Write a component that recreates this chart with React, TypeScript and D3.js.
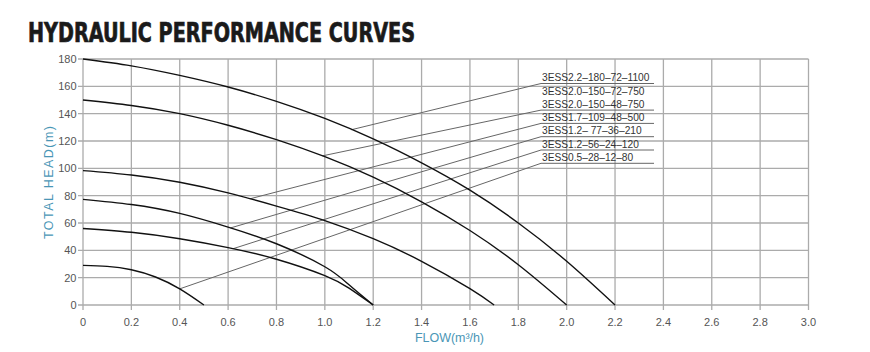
import React from 'react';
import * as d3 from 'd3';

// ---------- data ----------
const xTickValues = [0, 0.2, 0.4, 0.6, 0.8, 1.0, 1.2, 1.4, 1.6, 1.8, 2.0, 2.2, 2.4, 2.6, 2.8, 3.0];
const xTickLabels = ['0', '0.2', '0.4', '0.6', '0.8', '1.0', '1.2', '1.4', '1.6', '1.8', '2.0', '2.2', '2.4', '2.6', '2.8', '3.0'];
const yTickValues = [0, 20, 40, 60, 80, 100, 120, 140, 160, 180];
const yTickLabels = ['0', '20', '40', '60', '80', '100', '120', '140', '160', '180'];

// [flow m3/h, head m]
const curve22_180: [number, number][] = [[0, 180], [0.2, 175], [0.4, 168], [0.6, 159.5], [0.8, 149], [1.0, 136.5], [1.2, 121.5], [1.4, 104], [1.6, 84], [1.8, 60], [2.0, 32], [2.2, 0]];
const curve20_150: [number, number][] = [[0, 150], [0.2, 146], [0.4, 140], [0.6, 131.5], [0.8, 121], [1.0, 108.5], [1.2, 93.5], [1.4, 75.5], [1.6, 54.5], [1.8, 29.5], [2.0, 0]];
const curve17_109: [number, number][] = [[0, 98.3], [0.2, 95.1], [0.4, 89.8], [0.6, 82], [0.8, 72.4], [1.0, 61.8], [1.2, 48.5], [1.4, 32], [1.6, 12], [1.7, 0]];
const curve12_77: [number, number][] = [[0, 77.3], [0.2, 73.5], [0.4, 67], [0.6, 57], [0.8, 44.8], [1.0, 28], [1.1, 14.8], [1.2, 0]];
const curve12_56: [number, number][] = [[0, 56], [0.2, 53.2], [0.4, 48.5], [0.6, 42], [0.8, 33.5], [1.0, 21.5], [1.1, 12.3], [1.2, 0]];
const curve05_28: [number, number][] = [[0, 29], [0.1, 28.3], [0.2, 25.8], [0.3, 20.5], [0.4, 11.8], [0.5, 0]];

const curves = [curve22_180, curve20_150, curve17_109, curve12_77, curve12_56, curve05_28];

const modelLabels = [
  '3ESS2.2–180–72–1100',
  '3ESS2.0–150–72–750',
  '3ESS2.0–150–48–750',
  '3ESS1.7–109–48–500',
  '3ESS1.2– 77–36–210',
  '3ESS1.2–56–24–120',
  '3ESS0.5–28–12–80',
];
// label row that carries an underline + leader, the curve it points to, and the flow where it touches
const leaderRows = [0, 2, 3, 4, 5, 6];
const leaderCurveIndex = [0, 1, 2, 3, 4, 5];
const leaderFlows = [1.11, 0.99, 0.69, 0.61, 0.62, 0.4];

function headAt(c: [number, number][], q: number) {
  for (let i = 0; i < c.length - 1; i++) {
    const [q0, h0] = c[i];
    const [q1, h1] = c[i + 1];
    if (q >= q0 && q <= q1) return h0 + ((q - q0) / (q1 - q0)) * (h1 - h0);
  }
  return c[c.length - 1][1];
}

export default function App() {
  const W = 870;
  const H = 352;
  const x = d3.scaleLinear().domain([0, 3]).range([83, 808.5]);
  const y = d3.scaleLinear().domain([0, 180]).range([305, 59]);
  const line = d3
    .line<[number, number]>()
    .x((d) => x(d[0]))
    .y((d) => y(d[1]))
    .curve(d3.curveNatural);

  const gridColor = '#ababab';
  const tickColor = '#555';
  const titleBlue = '#4a96b6';
  const font = "'Liberation Sans', Arial, sans-serif";

  const labelLeft = 542;
  const labelRight = 654;
  const rowCenter0 = 77.5;
  const rowH = 13.3;

  return (
    <svg width={W} height={H} style={{ position: 'absolute', left: 0, top: 0, display: 'block', background: '#fff' }}>
      <rect x={0} y={0} width={W} height={H} fill="#fff" />
      <text
        x={28}
        y={41.5}
        fontFamily="'DejaVu Sans Condensed', 'DejaVu Sans', sans-serif"
        fontWeight="bold"
        fontSize={26}
        fill="#1a1a1a"
        stroke="#1a1a1a"
        strokeWidth={0.7}
        textLength={387}
        lengthAdjust="spacingAndGlyphs"
      >
        HYDRAULIC PERFORMANCE CURVES
      </text>

      {/* grid */}
      <g stroke={gridColor} strokeWidth={1.3}>
        {xTickValues.map((v) => (
          <line key={'vx' + v} x1={x(v)} x2={x(v)} y1={y(180)} y2={y(0) + 5} />
        ))}
        {yTickValues.map((v) => (
          <line key={'hy' + v} x1={x(0) - 5} x2={x(3)} y1={y(v)} y2={y(v)} />
        ))}
      </g>

      {/* tick labels */}
      <g fontFamily={font} fontSize={11} fill={tickColor}>
        {xTickValues.map((v, i) => (
          <text key={'xl' + v} x={x(v)} y={326} textAnchor="middle">
            {xTickLabels[i]}
          </text>
        ))}
        {yTickValues.map((v, i) => (
          <text key={'yl' + v} x={76.5} y={y(v) + 4} textAnchor="end">
            {yTickLabels[i]}
          </text>
        ))}
      </g>

      {/* axis titles */}
      <text
        transform={`translate(52.5,${(y(0) + y(180)) / 2 + 0.5}) rotate(-90)`}
        textAnchor="middle"
        fontFamily={font}
        fontSize={12.5}
        fill={titleBlue}
        textLength={113}
        lengthAdjust="spacing"
      >
        TOTAL HEAD(m)
      </text>
      <text x={415} y={342} fontFamily={font} fontSize={12.5} fill={titleBlue} textLength={69} lengthAdjust="spacing">
        FLOW(m³/h)
      </text>

      {/* leader lines and underlines */}
      <g stroke="#666" strokeWidth={1} fill="none">
        {leaderRows.map((r, i) => {
          const c = curves[leaderCurveIndex[i]];
          const q = leaderFlows[i];
          const uy = rowCenter0 + r * rowH + 6;
          return (
            <g key={'ld' + r}>
              <line x1={x(q)} y1={y(headAt(c, q))} x2={labelLeft - 1} y2={uy} />
              <line x1={labelLeft - 1} x2={labelRight} y1={uy} y2={uy} />
            </g>
          );
        })}
      </g>
      <g fontFamily={font} fontSize={10.2} fill="#333">
        {modelLabels.map((t, i) => (
          <text key={'lb' + i} x={labelLeft} y={rowCenter0 + i * rowH + 3.7}>
            {t}
          </text>
        ))}
      </g>

      {/* curves */}
      <g stroke="#111" strokeWidth={1.4} fill="none">
        {curves.map((c, i) => (
          <path key={'c' + i} d={line(c) || ''} />
        ))}
      </g>
    </svg>
  );
}
